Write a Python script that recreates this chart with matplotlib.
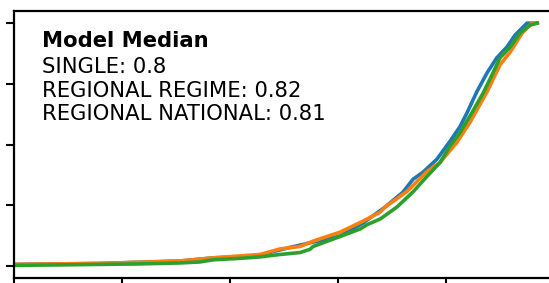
import numpy as np
import matplotlib
matplotlib.use("Agg")
import matplotlib.pyplot as plt

# curvas medianas por modelo (x normalizado, y acumulado)
single_x = [0, 0.159, 0.307, 0.369, 0.437, 0.456, 0.511, 0.554, 0.604, 0.646, 0.687, 0.720,
            0.739, 0.757, 0.783, 0.807, 0.826, 0.839, 0.857, 0.876, 0.894, 0.913, 0.928, 0.950,
            0.969]
single_y = [0.006, 0.010, 0.020, 0.033, 0.039, 0.045, 0.076, 0.098, 0.123, 0.176, 0.242, 0.303,
            0.357, 0.385, 0.439, 0.512, 0.574, 0.631, 0.717, 0.795, 0.857, 0.902, 0.951, 1.0,
            1.0]

regime_x = [0, 0.159, 0.307, 0.369, 0.419, 0.456, 0.493, 0.530, 0.554, 0.604, 0.646, 0.678,
            0.687, 0.728, 0.765, 0.789, 0.820, 0.844, 0.876, 0.9, 0.919, 0.941, 0.959, 0.969]
regime_y = [0.006, 0.010, 0.020, 0.033, 0.041, 0.047, 0.070, 0.080, 0.102, 0.139, 0.184, 0.221,
            0.242, 0.307, 0.389, 0.426, 0.508, 0.590, 0.717, 0.828, 0.881, 0.959, 1.0, 1.0]

national_x = [0, 0.085, 0.159, 0.233, 0.307, 0.344, 0.369, 0.419, 0.456, 0.493, 0.530, 0.548,
              0.554, 0.604, 0.641, 0.654, 0.678, 0.709, 0.739, 0.765, 0.789, 0.807, 0.826, 0.848,
              0.869, 0.887, 0.9, 0.919, 0.937, 0.956, 0.969]
national_y = [0.002, 0.004, 0.006, 0.008, 0.012, 0.016, 0.025, 0.031, 0.037, 0.047, 0.055, 0.068,
              0.080, 0.121, 0.152, 0.170, 0.193, 0.242, 0.305, 0.369, 0.426, 0.492, 0.549, 0.631,
              0.713, 0.795, 0.857, 0.902, 0.959, 0.992, 1.0]

medians = {"SINGLE": 0.8, "REGIONAL REGIME": 0.82, "REGIONAL NATIONAL": 0.81}

fig = plt.figure(figsize=(5.49, 2.83), dpi=100)
# el eje se sale por la derecha (recorte de una figura mayor)
ax = fig.add_axes([14/549, 5/283, 540/549, 267/283])

ax.plot(single_x, single_y, color="tab:blue", lw=2.6)
ax.plot(regime_x, regime_y, color="tab:orange", lw=2.6)
ax.plot(national_x, national_y, color="tab:green", lw=2.6)

ax.set_xlim(0, 1)
ax.set_ylim(-0.05, 1.05)
ax.set_xticks([0, 0.2, 0.4, 0.6, 0.8, 1.0])
ax.set_yticks([0, 0.25, 0.5, 0.75, 1.0])
ax.tick_params(labelleft=False, labelbottom=False, length=6, width=1.5)
for s in ax.spines.values():
    s.set_linewidth(1.6)

ax.text(0.052, 0.866, "Model Median", transform=ax.transAxes, fontsize=15.2,
        fontweight="bold", va="baseline")
yy = [0.768, 0.679, 0.592]
for (k, v), y in zip(medians.items(), yy):
    ax.text(0.052, y, "%s: %s" % (k, v), transform=ax.transAxes, fontsize=15.2, va="baseline")

fig.savefig("out.png", dpi=100)
